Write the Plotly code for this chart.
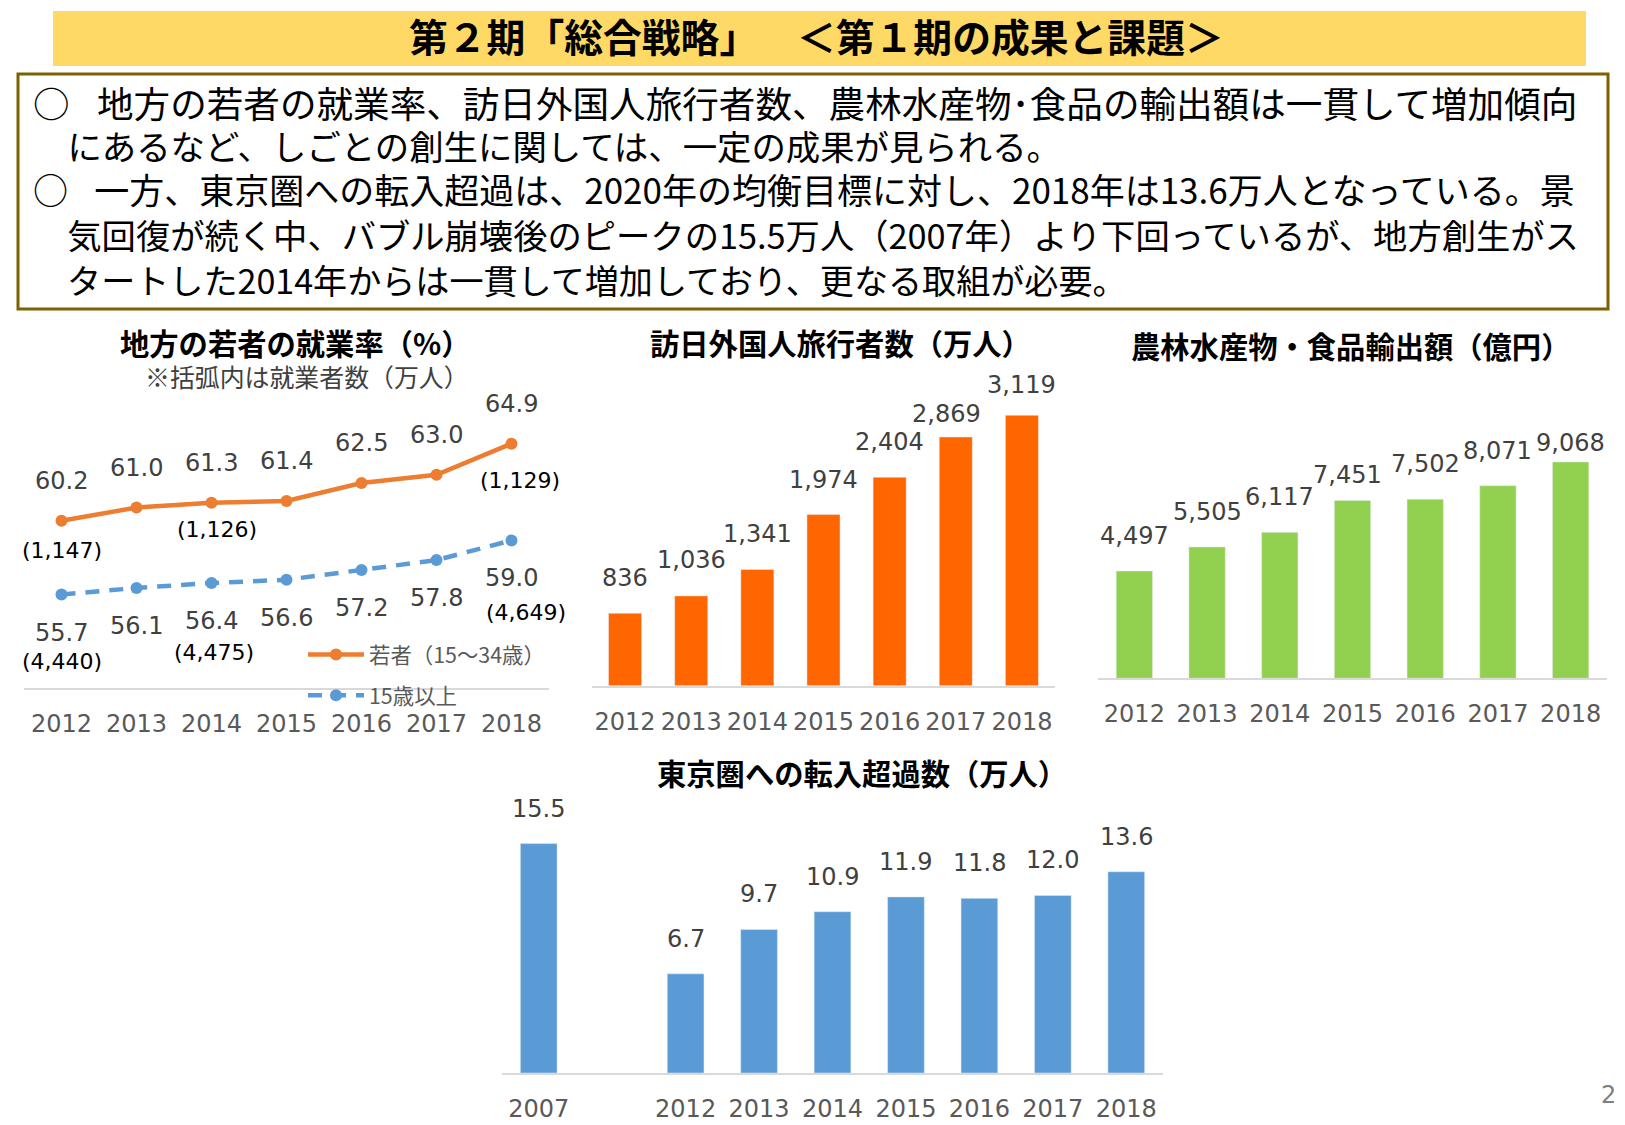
import plotly.graph_objects as go

W, H = 1625, 1125
JP = "Noto Sans CJK JP"
NUM = "DejaVu Sans"

years = ["2012", "2013", "2014", "2015", "2016", "2017", "2018"]

# employment rate (%)
young_rate = [60.2, 61.0, 61.3, 61.4, 62.5, 63.0, 64.9]
all_rate = [55.7, 56.1, 56.4, 56.6, 57.2, 57.8, 59.0]
young_workers = ["(1,147)", None, "(1,126)", None, None, None, "(1,129)"]
all_workers = ["(4,440)", None, "(4,475)", None, None, None, "(4,649)"]

# visitors from abroad (10k people)
visitors = [836, 1036, 1341, 1974, 2404, 2869, 3119]
visitor_shift = [35, 36, 35, 35, 35, 23, 30]

# farm and food exports (100M yen)
exports = [4497, 5505, 6117, 7451, 7502, 8071, 9068]
export_shift = [35, 35, 35, 26, 35, 35, 19]

# net migration to Tokyo area (10k people)
tokyo_years = ["2007", " ", "2012", "2013", "2014", "2015", "2016", "2017", "2018"]
tokyo_net = [15.5, None, 6.7, 9.7, 10.9, 11.9, 11.8, 12.0, 13.6]

header = "<b>第２期「総合戦略」　\u2002＜第１期の成果と課題＞</b>"
first_point = [
    ("○\u2002\u2005地方の若者の就業率、訪日外国人旅行者数、農林水産物･食品の輸出額は一貫して増加傾向", 36.6),
    ("　にあるなど、しごとの創生に関しては、一定の成果が見られる。", 34.4),
]
second_point = [
    ("○\u2002\u2005一方、東京圏への転入超過は、2020年の均衡目標に対し、2018年は13.6万人となっている。景", 35),
    ("　気回復が続く中、バブル崩壊後のピークの15.5万人（2007年）より下回っているが、地方創生がス", 34.3),
    ("　タートした2014年からは一貫して増加しており、更なる取組が必要。", 34.1),
]


def fx(px):
    return px / W


def fy(py):
    return 1 - py / H


fig = go.Figure()

# chart 1
fig.add_trace(go.Scatter(x=years, y=young_rate, name="若者（15～34歳）", xaxis="x", yaxis="y",
                         mode="lines+markers", legendgroup="a",
                         line=dict(color="#ED7D31", width=4.5), marker=dict(size=12, color="#ED7D31")))
fig.add_trace(go.Scatter(x=years, y=all_rate, name="15歳以上", xaxis="x", yaxis="y",
                         mode="lines+markers", legendgroup="b",
                         line=dict(color="#5B9BD5", width=4.5, dash="14px,10px"),
                         marker=dict(size=12, color="#5B9BD5")))

# bars
fig.add_trace(go.Bar(x=years, y=visitors, xaxis="x2", yaxis="y2", marker_color="#FF6600", showlegend=False))
fig.add_trace(go.Bar(x=years, y=exports, xaxis="x3", yaxis="y3", marker_color="#92D050", showlegend=False))
fig.add_trace(go.Bar(x=tokyo_years, y=tokyo_net, xaxis="x4", yaxis="y4", marker_color="#5B9BD5", showlegend=False))


def label(xref, yref, i, y, text, up=0, right=0, color="#404040", size=24):
    # category axes take the serial number of the category here
    fig.add_annotation(x=i, y=y, xref=xref, yref=yref, text=text, showarrow=False,
                       yshift=up, xshift=right, yanchor="middle",
                       font=dict(family=NUM, size=size, color=color))


def note(px, py, text, size, anchor="left", color="#000000", family=JP):
    fig.add_annotation(x=fx(px), y=fy(py), xref="paper", yref="paper", text=text, showarrow=False,
                       xanchor=anchor, yanchor="middle", align="left",
                       font=dict(family=family, size=size, color=color))


def block(lines):
    return "<br>".join(f'<span style="font-size:{s}px">{t}</span>' for t, s in lines)


for i, v in enumerate(young_rate):
    label("x", "y", i, v, f"{v:.1f}", up=40)
for i, v in enumerate(all_rate):
    label("x", "y", i, v, f"{v:.1f}", up=-38)

young_note_pos = {0: (-30, 0), 2: (-27, 5), 6: (-37, 8)}
all_note_pos = {0: (-67, 0), 2: (-69, 2), 6: (-72, 14)}
for i, (up, right) in young_note_pos.items():
    label("x", "y", i, young_rate[i], young_workers[i], up=up, right=right, color="#000000", size=22)
for i, (up, right) in all_note_pos.items():
    label("x", "y", i, all_rate[i], all_workers[i], up=up, right=right, color="#000000", size=22)

for i, v in enumerate(visitors):
    label("x2", "y2", i, v, f"{v:,}", up=visitor_shift[i], right=-9 if i == 5 else 0)
for i, v in enumerate(exports):
    label("x3", "y3", i, v, f"{v:,}", up=export_shift[i], right=-5 if i == 3 else 0)
for i, v in enumerate(tokyo_net):
    if v is not None:
        label("x4", "y4", i, v, f"{v:.1f}", up=35)

# header band and text box
fig.add_shape(type="rect", xref="paper", yref="paper", x0=fx(53), x1=fx(1586), y0=fy(66), y1=fy(11),
              fillcolor="#FFD966", line_width=0, layer="below")
fig.add_shape(type="rect", xref="paper", yref="paper", x0=fx(18), x1=fx(1608), y0=fy(309), y1=fy(74),
              fillcolor="#FFFFFF", line=dict(color="#7F6000", width=3), layer="below")

note(816, 35, header, 38.8, anchor="center")
note(31, 123, block(first_point), 32.3)
note(31, 234, block(second_point), 34.5)

note(295, 342, "<b>地方の若者の就業率（%）</b>", 29.3, anchor="center")
note(307, 376, "※括弧内は就業者数（万人）", 24.9, anchor="center", color="#404040")
note(840, 342, "<b>訪日外国人旅行者数（万人）</b>", 29.3, anchor="center")
note(1350, 345, "<b>農林水産物・食品輸出額（億円）</b>", 29.3, anchor="center")
note(862, 772, "<b>東京圏への転入超過数（万人）</b>", 29.3, anchor="center")
note(1608, 1095, "2", 24, anchor="center", color="#7F7F7F", family=NUM)


def x_axis(x0, x1, anchor, span, line_width=1.5):
    return dict(domain=[fx(x0), fx(x1)], anchor=anchor, type="category", range=span,
                showgrid=False, zeroline=False, showline=True, linecolor="#D9D9D9", linewidth=line_width,
                ticks="", ticklabelstandoff=13, tickangle=0,
                tickfont=dict(family=NUM, size=24, color="#595959"))


def y_axis(bottom, top, anchor, span):
    return dict(domain=[fy(bottom), fy(top)], anchor=anchor, range=span, visible=False)


fig.update_layout(
    width=W, height=H,
    margin=dict(l=0, r=0, t=0, b=0),
    paper_bgcolor="#FFFFFF", plot_bgcolor="rgba(0,0,0,0)",
    barmode="group", bargap=0.5,
    font=dict(family=JP),
    xaxis=x_axis(24, 549, "y", [-0.5, 6.5]),
    yaxis=y_axis(688, 392.8, "x", [50, 68]),
    xaxis2=x_axis(592, 1055, "y2", [-0.5, 6.5], line_width=2),
    yaxis2=y_axis(685.7, 382.3, "x2", [0, 3500]),
    xaxis3=x_axis(1098, 1607, "y3", [-0.5, 6.5]),
    yaxis3=y_axis(678.3, 392, "x3", [0, 12000]),
    xaxis4=x_axis(502, 1163, "y4", [-0.5, 8.5]),
    yaxis4=y_axis(1073, 777, "x4", [0, 20]),
    legend=dict(x=fx(303), y=fy(634), xanchor="left", yanchor="top", bgcolor="rgba(0,0,0,0)",
                itemwidth=56, tracegroupgap=10, traceorder="grouped",
                font=dict(family=JP, size=21.4, color="#595959")),
)

fig.write_html("out.html", config=dict(displayModeBar=False),
               post_script="document.body.style.margin='0';")
